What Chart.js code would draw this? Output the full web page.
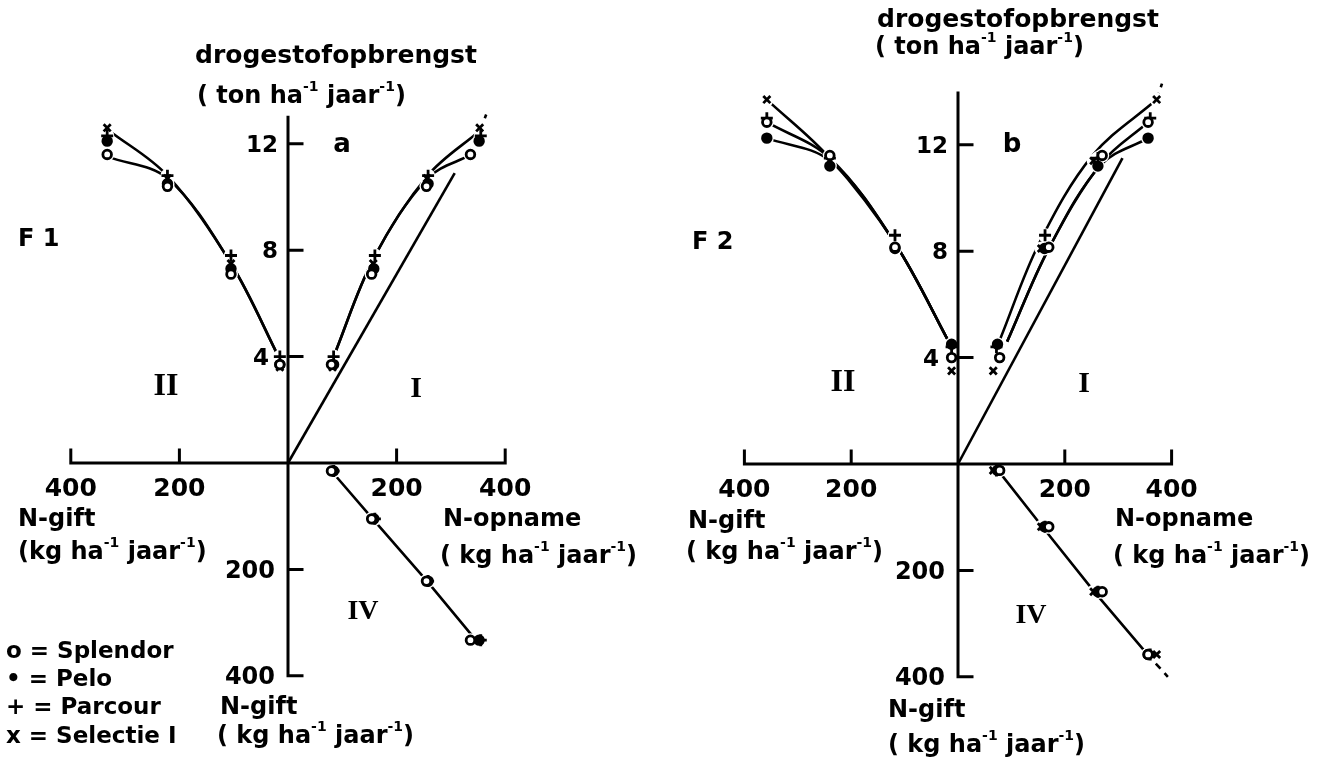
<!DOCTYPE html>
<html>
<head>
<meta charset="utf-8">
<script src="https://cdn.jsdelivr.net/npm/chart.js@4.4.0/dist/chart.umd.min.js"></script>
<style>
  html, body { margin: 0; padding: 0; background: #fff; }
  #wrap { position: relative; width: 1329px; height: 759px; overflow: hidden; }
  #wrap canvas { position: absolute; top: 0; }
</style>
</head>
<body>
<div id="wrap">
  <canvas id="panelA" width="664" height="759" style="left:0"></canvas>
  <canvas id="panelB" width="665" height="759" style="left:664px"></canvas>
</div>
<script>
// cultivar order used by every per-cultivar array below
const cultivars = ['Splendor', 'Pelo', 'Parcour', 'Selectie I'];

// axis ticks
const nTicks = [200, 400];
const yieldTicks = [4, 8, 12];
const giftTicks = [200, 400];

// ---- F1 (figure a) ----
const giftF1 = [15, 105, 222, 333];
const uptakeF1 = [
  [80, 154, 255, 336],
  [84, 158, 258, 352],
  [84, 160, 258, 355],
  [82, 157, 256, 353]
];
const yieldF1 = [
  [3.7, 7.1, 10.4, 11.6],
  [3.7, 7.3, 10.5, 12.1],
  [4.0, 7.8, 10.8, 12.3],
  [3.6, 7.5, 10.7, 12.6]
];
// fitted curves F1
const curveGiftF1 = [15, 105, 222, 330];
const curveGiftYieldF1 = [
  [3.9, 7.5, 10.8, 12.5],
  [3.9, 7.5, 10.7, 11.5]
];
const curveUptakeF1 = [
  [84, 158, 257, 354],
  [84, 158, 257, 338]
];
const curveUptakeYieldF1 = [
  [4.0, 7.7, 10.8, 12.5],
  [4.0, 7.7, 10.7, 11.6]
];
const extUptakeF1 = [354, 365];
const extYieldF1 = [12.5, 13.1];
const ratioUptakeF1 = [0, 307];
const ratioYieldF1 = [0, 10.9];
const q4UptakeF1 = [80, 156, 256, 346];
const q4GiftF1 = [15, 105, 222, 333];

// ---- F2 (figure b) ----
const giftF2 = [12, 118, 240, 358];
const uptakeF2 = [
  [78, 170, 270, 356],
  [74, 162, 262, 356],
  [72, 163, 262, 360],
  [66, 156, 254, 372]
];
const yieldF2 = [
  [4.0, 8.15, 11.6, 12.85],
  [4.5, 8.1, 11.2, 12.25],
  [4.4, 8.6, 11.5, 13.0],
  [3.5, 8.1, 11.4, 13.7]
];
// fitted curves F2
const curveGiftF2 = [12, 118, 240, 358];
const curveGiftYieldF2 = [
  [4.4, 8.3, 11.5, 13.7],
  [4.4, 8.3, 11.5, 12.85],
  [4.4, 8.3, 11.4, 12.25]
];
const curveUptakeF2 = [
  [79, 152, 252, 372],
  [92, 170, 268, 356],
  [92, 170, 268, 356]
];
const curveUptakeYieldF2 = [
  [4.7, 8.3, 11.6, 13.7],
  [4.6, 8.1, 11.3, 12.85],
  [4.6, 8.1, 11.25, 12.25]
];
const extUptakeF2 = [372, 382];
const extYieldF2 = [13.7, 14.3];
const ratioUptakeF2 = [0, 308];
const ratioYieldF2 = [0, 11.5];
const q4UptakeF2 = [75, 158, 255, 354];
const q4GiftF2 = [12, 118, 240, 357];
const q4ExtUptakeF2 = [354, 393];
const q4ExtGiftF2 = [357, 400];

const FONT = '"DejaVu Sans", sans-serif';
const SERIF = '"Liberation Serif", "DejaVu Serif", serif';
const PX_PER_TON = 26.6;

const markerLook = [
  { pointStyle: 'circle', bg: '#fff', r: 4.3 },
  { pointStyle: 'circle', bg: '#000', r: 4.3 },
  { pointStyle: 'cross', bg: '#000', r: 6 },
  { pointStyle: 'crossRot', bg: '#000', r: 5 }
];

function pts(xs, ys) {
  return xs.map((x, i) => ({ x, y: ys[i] }));
}

function lineSet(data, xAxisID, yAxisID, opts = {}) {
  return {
    data, xAxisID, yAxisID,
    showLine: true, pointRadius: 0, fill: false,
    borderColor: '#000', borderWidth: 2.6,
    tension: opts.straight ? 0 : 0.35,
    borderDash: opts.dashed ? [7, 6] : [],
    order: 3
  };
}

function markerSets(gift, uptake, yields) {
  const sets = [];
  cultivars.forEach((name, i) => {
    const quads = [
      { data: pts(gift, yields[i]), x: 'xg', y: 'yt' },
      { data: pts(uptake[i], yields[i]), x: 'xo', y: 'yt' },
      { data: pts(uptake[i], gift), x: 'xo', y: 'yk' }
    ];
    quads.forEach(q => {
      // white halo that opens the curves around each symbol
      sets.push({
        label: name, data: q.data, xAxisID: q.x, yAxisID: q.y,
        pointStyle: 'circle', pointRadius: 7, borderWidth: 0,
        pointBackgroundColor: '#fff', pointBorderColor: '#fff', order: 2
      });
      const m = markerLook[i];
      sets.push({
        label: name, data: q.data, xAxisID: q.x, yAxisID: q.y,
        pointStyle: m.pointStyle, pointRadius: m.r, pointBorderWidth: 2.8,
        pointBackgroundColor: m.bg, pointBorderColor: '#000', order: 1
      });
    });
  });
  return sets;
}

function unitParts(u, gap) {
  return [['(' + gap + u + ' ha', 0], ['-1', 1], [' jaar', 0], ['-1', 1], [')', 0]];
}

function richText(ctx, parts, x, y, size) {
  let cx = x;
  parts.forEach(([s, sup]) => {
    const fs = sup ? Math.round(size * 0.6) : size;
    ctx.font = `bold ${fs}px ${FONT}`;
    ctx.fillText(s, cx, sup ? y - size * 0.4 : y);
    cx += ctx.measureText(s).width;
  });
}

const quadrantAxes = {
  id: 'quadrantAxes',
  afterDraw(chart, args, o) {
    const { ctx } = chart;
    const { xo, xg, yt, yk } = chart.scales;
    const ox = xo.getPixelForValue(0);
    const oy = yt.getPixelForValue(0);
    const off = o.offsetX;

    ctx.save();
    ctx.strokeStyle = '#000';
    ctx.fillStyle = '#000';
    ctx.lineWidth = 3;
    ctx.lineCap = 'square';

    // horizontal axis (N-gift left, N-opname right)
    ctx.beginPath();
    ctx.moveTo(xg.getPixelForValue(400), oy);
    ctx.lineTo(xo.getPixelForValue(400), oy);
    // vertical axis (yield up, N-gift down)
    ctx.moveTo(ox, yt.getPixelForValue(o.axisTop));
    ctx.lineTo(ox, yk.getPixelForValue(400));
    // ticks
    nTicks.forEach(v => {
      [xg, xo].forEach(s => {
        const px = s.getPixelForValue(v);
        ctx.moveTo(px, oy);
        ctx.lineTo(px, oy - 13);
      });
    });
    yieldTicks.forEach(v => {
      const py = yt.getPixelForValue(v);
      ctx.moveTo(ox, py);
      ctx.lineTo(ox + 14, py);
    });
    giftTicks.forEach(v => {
      const py = yk.getPixelForValue(v);
      ctx.moveTo(ox, py);
      ctx.lineTo(ox + 14, py);
    });
    ctx.stroke();

    // tick labels
    ctx.textBaseline = 'middle';
    ctx.font = `bold 25px ${FONT}`;
    ctx.textAlign = 'center';
    nTicks.forEach(v => {
      [xg, xo].forEach(s => ctx.fillText(String(v), s.getPixelForValue(v), oy + 26));
    });
    ctx.textAlign = 'right';
    ctx.font = `bold 23px ${FONT}`;
    yieldTicks.forEach(v => ctx.fillText(String(v), ox - (v === 4 ? 19 : 10), yt.getPixelForValue(v) + 2));
    ctx.font = `bold 24px ${FONT}`;
    giftTicks.forEach(v => ctx.fillText(String(v), ox - 13, yk.getPixelForValue(v) + 2));

    // plain labels
    o.texts.forEach(t => {
      ctx.font = `bold ${t.size}px ${t.serif ? SERIF : FONT}`;
      ctx.textAlign = t.align || 'left';
      ctx.fillText(t.s, t.x - off, t.y);
    });
    ctx.textAlign = 'left';
    o.units.forEach(u => richText(ctx, unitParts(u.u, u.gap || ''), u.x - off, u.y, u.size));
    ctx.restore();
  }
};

function makePanel(id, cfg) {
  const k = cfg.pxPerN;
  const ox = cfg.originX - cfg.offsetX;
  const padding = {
    left: ox - 450 * k,
    right: cfg.width - (ox + 450 * k),
    top: cfg.originY - 15 * PX_PER_TON,
    bottom: 759 - (cfg.originY + 10 * PX_PER_TON)
  };
  return new Chart(document.getElementById(id), {
    type: 'scatter',
    data: { datasets: [...cfg.lines, ...markerSets(cfg.gift, cfg.uptake, cfg.yields)] },
    options: {
      responsive: false,
      animation: false,
      layout: { padding },
      plugins: {
        legend: { display: false },
        tooltip: { enabled: false },
        quadrantAxes: { offsetX: cfg.offsetX, axisTop: cfg.axisTop, texts: cfg.texts, units: cfg.units }
      },
      scales: {
        x: { display: false },
        y: { display: false },
        xo: { type: 'linear', axis: 'x', min: -450, max: 450, display: false },
        xg: { type: 'linear', axis: 'x', min: -450, max: 450, reverse: true, display: false },
        yt: { type: 'linear', axis: 'y', min: -10, max: 15, display: false },
        yk: { type: 'linear', axis: 'y', min: -750, max: 500, reverse: true, display: false }
      }
    },
    plugins: [quadrantAxes]
  });
}

// figure a
makePanel('panelA', {
  offsetX: 0, width: 664, originX: 288, originY: 463, pxPerN: 0.543, axisTop: 13.0,
  gift: giftF1, uptake: uptakeF1, yields: yieldF1,
  lines: [
    ...curveGiftYieldF1.map(ys => lineSet(pts(curveGiftF1, ys), 'xg', 'yt')),
    ...curveUptakeYieldF1.map((ys, i) => lineSet(pts(curveUptakeF1[i], ys), 'xo', 'yt')),
    lineSet(pts(extUptakeF1, extYieldF1), 'xo', 'yt', { dashed: true, straight: true }),
    lineSet(pts(ratioUptakeF1, ratioYieldF1), 'xo', 'yt', { straight: true }),
    lineSet(pts(q4UptakeF1, q4GiftF1), 'xo', 'yk', { straight: true })
  ],
  texts: [
    { s: 'drogestofopbrengst', x: 195, y: 56, size: 25 },
    { s: 'a', x: 342, y: 145, size: 26, align: 'center' },
    { s: 'F 1', x: 18, y: 240, size: 24 },
    { s: 'N-gift', x: 18, y: 520, size: 24 },
    { s: 'N-opname', x: 443, y: 520, size: 24 },
    { s: 'N-gift', x: 220, y: 708, size: 24 },
    { s: 'II', x: 166, y: 387, size: 32, align: 'center', serif: true },
    { s: 'I', x: 416, y: 389, size: 30, align: 'center', serif: true },
    { s: 'IV', x: 363, y: 612, size: 28, align: 'center', serif: true },
    { s: 'o = Splendor', x: 6, y: 652, size: 23 },
    { s: '\u2022 = Pelo', x: 6, y: 680, size: 23 },
    { s: '+ = Parcour', x: 6, y: 708, size: 23 },
    { s: 'x = Selectie I', x: 6, y: 737, size: 23 }
  ],
  units: [
    { u: 'ton', x: 197, y: 97, size: 24, gap: ' ' },
    { u: 'kg', x: 18, y: 553, size: 24 },
    { u: 'kg', x: 440, y: 557, size: 24, gap: ' ' },
    { u: 'kg', x: 217, y: 737, size: 24, gap: ' ' }
  ]
});

// figure b
makePanel('panelB', {
  offsetX: 664, width: 665, originX: 958, originY: 464, pxPerN: 0.534, axisTop: 13.95,
  gift: giftF2, uptake: uptakeF2, yields: yieldF2,
  lines: [
    ...curveGiftYieldF2.map(ys => lineSet(pts(curveGiftF2, ys), 'xg', 'yt')),
    ...curveUptakeYieldF2.map((ys, i) => lineSet(pts(curveUptakeF2[i], ys), 'xo', 'yt')),
    lineSet(pts(extUptakeF2, extYieldF2), 'xo', 'yt', { dashed: true, straight: true }),
    lineSet(pts(ratioUptakeF2, ratioYieldF2), 'xo', 'yt', { straight: true }),
    lineSet(pts(q4UptakeF2, q4GiftF2), 'xo', 'yk', { straight: true }),
    lineSet(pts(q4ExtUptakeF2, q4ExtGiftF2), 'xo', 'yk', { dashed: true, straight: true })
  ],
  texts: [
    { s: 'drogestofopbrengst', x: 877, y: 20, size: 25 },
    { s: 'b', x: 1012, y: 145, size: 26, align: 'center' },
    { s: 'F 2', x: 692, y: 243, size: 24 },
    { s: 'N-gift', x: 688, y: 522, size: 24 },
    { s: 'N-opname', x: 1115, y: 520, size: 24 },
    { s: 'N-gift', x: 888, y: 711, size: 24 },
    { s: 'II', x: 843, y: 383, size: 32, align: 'center', serif: true },
    { s: 'I', x: 1084, y: 384, size: 30, align: 'center', serif: true },
    { s: 'IV', x: 1031, y: 616, size: 28, align: 'center', serif: true }
  ],
  units: [
    { u: 'ton', x: 875, y: 48, size: 24, gap: ' ' },
    { u: 'kg', x: 686, y: 553, size: 24, gap: ' ' },
    { u: 'kg', x: 1113, y: 557, size: 24, gap: ' ' },
    { u: 'kg', x: 888, y: 746, size: 24, gap: ' ' }
  ]
});
</script>
</body>
</html>
